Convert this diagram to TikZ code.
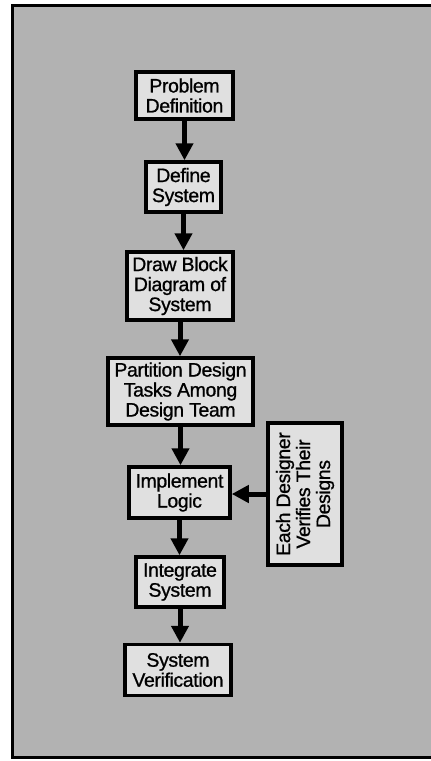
\documentclass[tikz,border=0pt]{standalone}
\usepackage{fontspec}
\setmainfont{Liberation Sans}[LetterSpace=-2, FakeBold=0.9]
\usetikzlibrary{arrows.meta}
\definecolor{bggray}{gray}{0.70}
\definecolor{boxgray}{gray}{0.88}
\tikzset{
  stepbox/.style={draw=black, line width=3.5pt, fill=boxgray, align=center, inner sep=0pt,
    font=\fontsize{19.5}{20}\selectfont},
  flowarrow/.style={line width=5pt, -{Triangle[length=17pt,width=17pt]}},
}
\begin{document}
\begin{tikzpicture}[x=1pt,y=-1pt]
\useasboundingbox (0,0) rectangle (431,761);
\fill[white] (0,0) rectangle (431,761);
\draw[line width=3pt, fill=bggray] (12,5) rectangle (445,757);

\node[stepbox, minimum width=97pt, minimum height=47pt] (n1) at (184.5,95.5) {Problem\\Definition};
\node[stepbox, minimum width=75pt, minimum height=50pt] (n2) at (183.5,187) {Define\\System};
\node[stepbox, minimum width=106pt, minimum height=68pt] (n3) at (180,286) {Draw Block\\Diagram of\\System};
\node[stepbox, minimum width=145pt, minimum height=67pt] (n4) at (180.5,391.5) {Partition Design\\Tasks Among\\Design Team};
\node[stepbox, minimum width=101pt, minimum height=51pt] (n5) at (179.5,492.5) {Implement\\Logic};
\node[stepbox, minimum width=88pt, minimum height=50pt] (n6) at (180,582) {Integrate\\System};
\node[stepbox, minimum width=106pt, minimum height=51pt] (n7) at (178,670) {System\\Verification};
\node[stepbox, rotate=90, minimum width=142pt, minimum height=74pt] (s) at (305,494) {Each Designer\\Verifies Their\\Designs};

\draw[flowarrow] (n1.south) -- (n1.south |- n2.north);
\draw[flowarrow] (n2.south) -- (n2.south |- n3.north);
\draw[flowarrow] (n3.south) -- (n3.south |- n4.north);
\draw[flowarrow] (n4.south) -- (n4.south |- n5.north);
\draw[flowarrow] (n5.south) -- (n5.south |- n6.north);
\draw[flowarrow] (n6.south) -- (n6.south |- n7.north);
\draw[flowarrow] (s.north) -- (n5.east |- s.north);
\end{tikzpicture}
\end{document}
